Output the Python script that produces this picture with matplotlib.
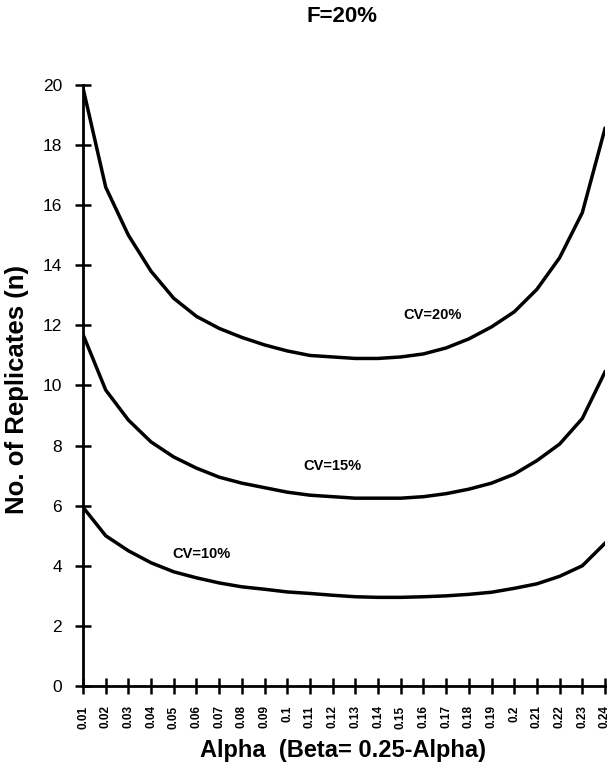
import matplotlib.pyplot as plt

plt.rcParams['font.family'] = ['Liberation Sans', 'DejaVu Sans']

alpha = [0.01, 0.02, 0.03, 0.04, 0.05, 0.06, 0.07, 0.08, 0.09, 0.10, 0.11, 0.12,
         0.13, 0.14, 0.15, 0.16, 0.17, 0.18, 0.19, 0.20, 0.21, 0.22, 0.23, 0.24]
alpha_labels = ['0.01', '0.02', '0.03', '0.04', '0.05', '0.06', '0.07', '0.08',
                '0.09', '0.1', '0.11', '0.12', '0.13', '0.14', '0.15', '0.16',
                '0.17', '0.18', '0.19', '0.2', '0.21', '0.22', '0.23', '0.24']

cv20 = [19.9, 16.6, 15.0, 13.8, 12.9, 12.3, 11.9, 11.6, 11.35, 11.15, 11.0, 10.95,
        10.9, 10.9, 10.95, 11.05, 11.25, 11.55, 11.95, 12.45, 13.2, 14.25, 15.75, 18.55]
cv15 = [11.7, 9.85, 8.85, 8.12, 7.62, 7.25, 6.95, 6.75, 6.6, 6.45, 6.35, 6.3,
        6.25, 6.25, 6.25, 6.3, 6.4, 6.55, 6.75, 7.05, 7.5, 8.05, 8.9, 10.45]
cv10 = [5.95, 5.0, 4.5, 4.1, 3.8, 3.6, 3.43, 3.3, 3.22, 3.13, 3.08, 3.02,
        2.97, 2.95, 2.95, 2.97, 3.0, 3.05, 3.12, 3.25, 3.4, 3.65, 4.0, 4.75]

fig = plt.figure(figsize=(6.09, 7.67), dpi=100)
ax = fig.add_axes([0.1363, 0.1056, 0.8571, 0.7836])

ax.plot(alpha, cv20, color='black', lw=2.5)
ax.plot(alpha, cv15, color='black', lw=2.5)
ax.plot(alpha, cv10, color='black', lw=2.5)

# curve labels
ax.text(0.1642, 12.35, 'CV=20%', fontsize=10.5, fontweight='bold', ha='center', va='center')
ax.text(0.1197, 7.32, 'CV=15%', fontsize=10.5, fontweight='bold', ha='center', va='center')
ax.text(0.062, 4.39, 'CV=10%', fontsize=10.5, fontweight='bold', ha='center', va='center')

ax.set_xlim(0.01, 0.24)
ax.set_ylim(0, 20)
ax.set_xticks(alpha)
ax.set_xticklabels(alpha_labels, rotation=90, fontsize=8.5, fontweight='bold')
ax.set_yticks(range(0, 21, 2))
ax.tick_params(axis='y', labelsize=12.5, direction='inout', length=12, width=1.8, pad=9)
ax.tick_params(axis='x', direction='inout', length=12, width=1.8, pad=8)

for side in ['top', 'right']:
    ax.spines[side].set_visible(False)
for side in ['left', 'bottom']:
    ax.spines[side].set_linewidth(2)

fig.text(0.028, 0.492, 'No. of Replicates (n)', rotation=90, fontsize=18.5,
         fontweight='bold', ha='center', va='center')
fig.text(0.563, 0.021, 'Alpha  (Beta= 0.25-Alpha)', fontsize=17,
         fontweight='bold', ha='center', va='center')
fig.text(0.562, 0.979, 'F=20%', fontsize=16, fontweight='bold', ha='center', va='center')

plt.savefig('out.png', dpi=100)
